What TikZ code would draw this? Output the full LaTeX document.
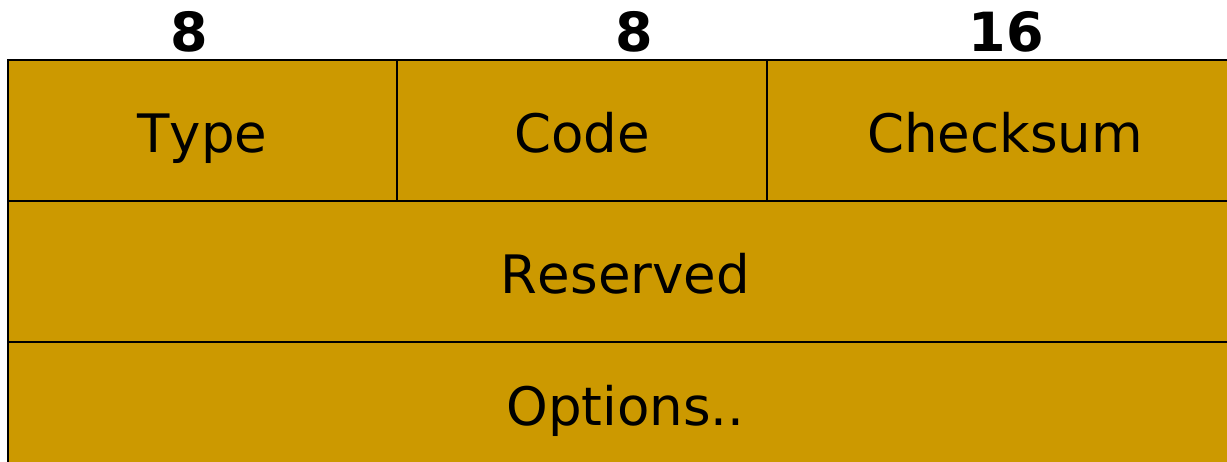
\documentclass[tikz,border=0pt]{standalone}
\usepackage{fontspec}
\setmainfont[Kerning=Off]{DejaVu Sans}
\usetikzlibrary{positioning}

\definecolor{hdrgold}{RGB}{204,153,0}

\tikzset{
	field/.style={draw=black, fill=hdrgold, line width=1.6pt, rectangle,
		inner sep=0pt, outer sep=0pt, minimum height=141pt,
		text height=50pt, text depth=5pt, font=\fontsize{53}{60}\selectfont},
	bits/.style={inner sep=0pt, anchor=base, font=\fontsize{54}{60}\selectfont\bfseries},
}

\begin{document}
\begin{tikzpicture}[x=1pt,y=-1pt]
		\clip (0,0) rectangle (1227,462);
		% first word: type, code, checksum
		\node[field, minimum width=389pt, anchor=north west] (type) at (8,60) {Type};
		\node[field, minimum width=370pt, right=0pt of type] (code) {Code};
		\node[field, minimum width=476pt, right=0pt of code] (checksum) {Checksum};
		% second and third word
		\node[field, minimum width=1235pt, anchor=north west] (reserved) at (type.south west) {Reserved};
		\node[field, minimum width=1235pt, minimum height=122pt, anchor=north west] (options) at (reserved.south west) {Options..};
		% field widths in bits
		\node[bits] (wtype) at (189,52) {8};
		\node[bits] (wcode) at (634,52) {8};
		\node[bits] (wchecksum) at (1006,52) {16};
	\end{tikzpicture}
\end{document}
